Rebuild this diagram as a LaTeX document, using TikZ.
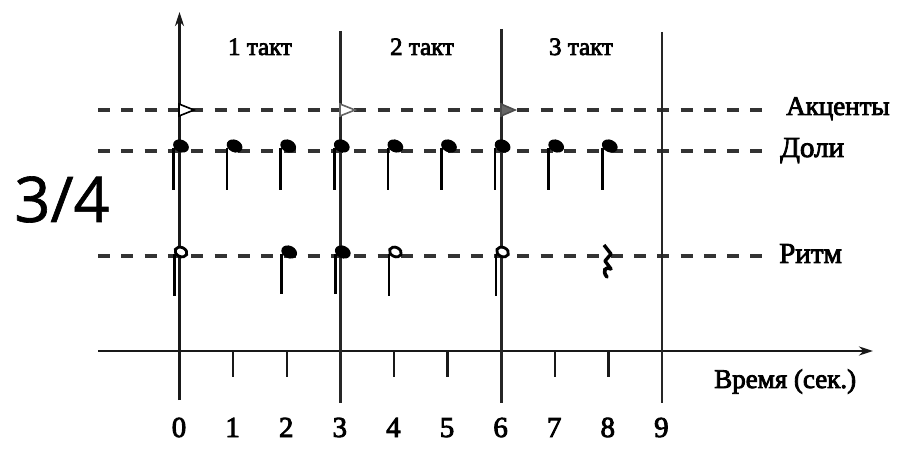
\documentclass[tikz,border=0pt]{standalone}
\usepackage{fontspec}
\setmainfont[FakeBold=3]{Liberation Serif}
\newfontfamily\sigfont[FakeBold=1]{Open Sans}
\usetikzlibrary{arrows.meta}
\begin{document}
\begin{tikzpicture}[x=1pt,y=-1pt,
  axisline/.style={line width=2.8pt, black!90},
  barline/.style={line width=2.8pt, black!85},
  tickline/.style={line width=2.4pt, black!90},
  guide/.style={line width=3.2pt, black!80, dash pattern=on 12pt off 11.3pt},
  lbl/.style={font=\fontsize{27}{28}\selectfont, anchor=base west, inner sep=0pt},
  num/.style={font=\fontsize{29}{30}\selectfont, anchor=base, inner sep=0pt},
  meas/.style={font=\fontsize{25}{26}\selectfont, anchor=base, inner sep=0pt},
  stem/.style={line width=2.6pt, black},
  hollow/.style={line width=2.8pt, draw=black, fill=white},
  accent/.style={line width=1.6pt, line join=miter}
]
\useasboundingbox (0,0) rectangle (900,462);

% guide lines
\coordinate (aL) at (98,110); \coordinate (aR) at (770,110);
\coordinate (dL) at (98,151); \coordinate (dR) at (770,151);
\coordinate (rL) at (98,256); \coordinate (rR) at (768,256);
\draw[guide] (aL) -- (aR);
\draw[guide] (dL) -- (dR);
\draw[guide] (rL) -- (rR);

% axes
\coordinate (vbot) at (179.5,400); \coordinate (vtop) at (179.5,12);
\draw[axisline, -{Stealth[length=14pt,width=9pt]}] (vbot) -- (vtop);
\coordinate (hl) at (98,351); \coordinate (hr) at (873,351);
\draw[axisline, -{Stealth[length=14pt,width=9pt]}] (hl) -- (hr);

% barlines
\foreach \k/\t in {3/31,6/29,9/32}{
  \pgfmathsetmacro\xx{179.5+53.6*\k}
  \coordinate (bt\k) at (\xx,\t); \coordinate (bb\k) at (\xx,403);
  \draw[barline] (bt\k) -- (bb\k);
}
% ticks
\foreach \k in {1,2,4,5,7,8}{
  \pgfmathsetmacro\xx{179.5+53.6*\k}
  \coordinate (tt\k) at (\xx,351); \coordinate (tb\k) at (\xx,377);
  \draw[tickline] (tt\k) -- (tb\k);
}
% numbers
\foreach \k in {0,...,9}{
  \pgfmathsetmacro\xx{179+53.6*\k}
  \node[num] (n\k) at (\xx,437) {\k};
}

% measure labels
\node[meas] (m1) at (260,55) {1 такт};
\node[meas] (m2) at (422,55) {2 такт};
\node[meas] (m3) at (581,55) {3 такт};

% row labels
\node[lbl] (acc) at (786,115) {Акценты};
\node[lbl, font=\fontsize{29}{30}\selectfont] (dol) at (780,157) {Доли};
\node[lbl, font=\fontsize{29}{30}\selectfont] (rit) at (779,263) {Ритм};
\node[lbl, font=\fontsize{27}{28}\selectfont] (time) at (714,388) {Время (сек.)};

% time signature
\node[font=\sigfont\fontsize{63}{63}\selectfont, anchor=base, inner sep=0pt] (sig) at (62,222) {3/4};

% accents
\draw[accent, fill=white, draw=black] (179,104) -- (194,110) -- (179,116) -- cycle;
\draw[accent, fill=white, draw=black!60] (340,104) -- (355,110) -- (340,116) -- cycle;
\draw[accent, fill=black!60, draw=black!70] (501,104) -- (515,110) -- (501,116) -- cycle;

% beats (quarter notes)
\foreach \k in {0,...,8}{
  \pgfmathsetmacro\xx{179+53.6*\k}
  \fill[rotate around={-25:({\xx+2},146)}] ({\xx+2},146) ellipse (8.2 and 6.2);
  \draw[stem] ({\xx-5.5},148) -- ({\xx-5.5},190);
}

% rhythm: quarters at 2,3
\foreach \k in {2,3}{
  \pgfmathsetmacro\xx{179+53.6*\k}
  \fill[rotate around={-25:({\xx+3},252)}] ({\xx+3},252) ellipse (8.2 and 6.2);
  \draw[stem] ({\xx-4.5},254) -- ({\xx-4.5},294);
}
% rhythm: halves at 0,4,6
\foreach \k in {0,4,6}{
  \pgfmathsetmacro\xx{179+53.6*\k}
  \draw[stem] ({\xx-4.5},254) -- ({\xx-4.5},296);
  \draw[hollow, rotate around={-25:({\xx+2},252)}] ({\xx+2},252) ellipse (6.2 and 4.6);
}
% rest at 8
\draw[line width=3.4pt, line join=round] (604,245) -- (611,254) -- (605,261) -- (611,269);
\draw[line width=3.6pt, line cap=round] (611,269) .. controls (605,266) and (602,271) .. (607,277);
\end{tikzpicture}
\end{document}
